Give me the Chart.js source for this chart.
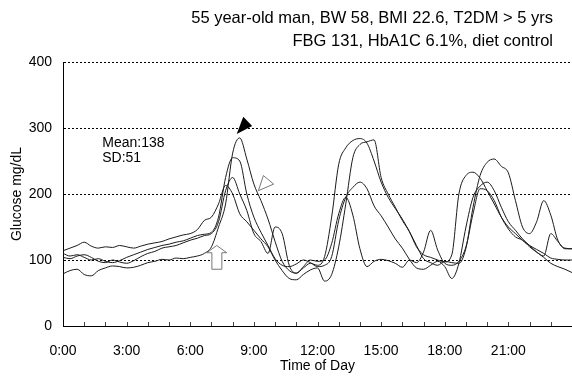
<!DOCTYPE html>
<html>
<head>
<meta charset="utf-8">
<script src="https://cdn.jsdelivr.net/npm/chart.js@4.4.1/dist/chart.umd.min.js"></script>
<style>
html, body { margin: 0; padding: 0; background: #fff; }
canvas { display: block; }
</style>
</head>
<body>
<canvas id="cgm" width="572" height="377"></canvas>
<script>
// sampling grid: every 20 minutes, 0:00 .. 24:00
const hours = Array.from({ length: 73 }, (_, i) => i / 3);

const day1 = [
  79, 84, 86,   78, 76, 84,   88, 91, 90,   88, 89, 92,   96, 98, 101,  100, 103, 102,
  104, 106, 110, 120, 150, 185, 262, 285, 253, 215, 190, 162, 128, 98, 84,  80, 88, 95,
  92, 105, 165, 245, 270, 281, 284, 277, 250, 218, 195, 178, 162, 143, 122, 102, 96, 92,
  98, 96, 95,   118, 180, 228, 248, 253, 242, 232, 190, 150, 140, 158, 190, 168, 130, 118,
  117
];
const day2 = [
  114, 118, 122, 127, 121, 118, 120, 119, 122, 120, 118, 121, 124, 126, 128, 132, 135, 138,
  140, 146, 160, 165, 185, 213, 200, 170, 158, 145, 132, 120, 100, 84, 72,  70, 78, 85,
  88, 68, 78,   120, 185, 255, 275, 279, 282, 225, 200, 180, 160, 143, 120, 108, 104, 100,
  97, 108, 200, 228, 233, 224, 205, 185, 165, 150, 140, 130, 122, 116, 110, 103, 101, 100,
  100
];
const day3 = [
  110, 106, 108, 104, 100, 102, 98, 96, 99,   104, 108, 112, 116, 119, 122, 124, 127, 129,
  133, 137, 139, 142, 165, 225, 255, 250, 200, 165, 142, 122, 102, 92, 90,  94, 100, 96,
  90, 92, 105,  160, 195, 210, 218, 208, 182, 167, 150, 132, 118, 101, 88,  86, 92, 98,
  90, 72, 95,   150, 195, 212, 218, 205, 180, 158, 145, 132, 122, 112, 104, 95, 90, 86,
  81
];
const day4 = [
  104, 102, 106, 108, 104, 98,  96, 100, 97,  95, 99, 105,  110, 113, 118, 120, 122, 126,
  130, 133, 137, 140, 158, 205, 225, 200, 175, 140, 128, 110, 150, 140, 92,  80, 90, 100,
  98, 100, 125, 170, 195, 168, 117, 90, 98,   101, 99, 95,   89, 100, 96,   112, 145, 115,
  95, 92, 98,   120, 170, 208, 205, 190, 165, 147, 135, 130, 120, 112, 106, 140, 128, 117,
  117
];
const days = [day1, day2, day3, day4];

const xTickLabels = ['0:00', '3:00', '6:00', '9:00', '12:00', '15:00', '18:00', '21:00'];
const titleLines = ['55 year-old man, BW 58, BMI 22.6, T2DM > 5 yrs', 'FBG 131, HbA1C 6.1%, diet control'];
const statLines = ['Mean:138', 'SD:51'];

const FONT = 'Arial, "Liberation Sans", sans-serif';

// title, hour ticks, summary text and the meal markers
const overlay = {
  id: 'overlay',
  afterDraw(chart) {
    const { ctx, scales: { x, y } } = chart;
    const P = (t, v) => [x.getPixelForValue(t), y.getPixelForValue(v)];
    ctx.save();

    ctx.fillStyle = '#000';
    ctx.font = '16.5px ' + FONT;
    ctx.textAlign = 'right';
    ctx.textBaseline = 'middle';
    ctx.fillText(titleLines[0], 553, 18);
    ctx.fillText(titleLines[1], 553, 41);

    ctx.strokeStyle = '#444';
    ctx.lineWidth = 1;
    for (let h = 1; h < 24; h++) {
      const px = Math.round(x.getPixelForValue(h)) + 0.5;
      ctx.beginPath();
      ctx.moveTo(px, y.bottom);
      ctx.lineTo(px, y.bottom - 4);
      ctx.stroke();
    }

    ctx.font = '14px ' + FONT;
    ctx.textAlign = 'left';
    let p = P(1.85, 277);
    ctx.fillText(statLines[0], p[0], p[1]);
    p = P(1.85, 254);
    ctx.fillText(statLines[1], p[0], p[1]);

    const poly = (pts, fill, stroke) => {
      ctx.beginPath();
      pts.forEach(([t, v], i) => {
        const [a, b] = P(t, v);
        i ? ctx.lineTo(a, b) : ctx.moveTo(a, b);
      });
      ctx.closePath();
      ctx.fillStyle = fill;
      ctx.fill();
      if (stroke) { ctx.strokeStyle = stroke; ctx.stroke(); }
    };
    // filled triangle over the highest breakfast peak
    poly([[8.19, 291], [8.5, 317], [8.92, 303]], '#000');
    // open triangle on the descent
    poly([[9.21, 205], [9.45, 228], [9.93, 215]], '#fff', '#777');
    // open up-arrow at breakfast time
    poly([[7.25, 122], [6.78, 111], [7.02, 111], [7.02, 86], [7.49, 86], [7.49, 111], [7.72, 111]], '#fff', '#777');

    ctx.restore();
  }
};

new Chart(document.getElementById('cgm'), {
  type: 'line',
  data: {
    datasets: days.map((d, k) => ({
      label: 'Day ' + (k + 1),
      data: d.map((v, i) => ({ x: hours[i], y: v })),
      borderColor: '#1b1b1b',
      borderWidth: 1,
      pointRadius: 0,
      cubicInterpolationMode: 'monotone',
      fill: false
    }))
  },
  options: {
    responsive: false,
    animation: false,
    devicePixelRatio: 1,
    layout: { padding: { top: 62, right: 0, left: 0, bottom: 0 } },
    plugins: { legend: { display: false }, tooltip: { enabled: false } },
    scales: {
      x: {
        type: 'linear',
        min: 0,
        max: 24,
        afterFit: s => { s.height = 51; s.paddingRight = 0; },
        grid: { display: false },
        border: { display: true, color: '#000', width: 1 },
        ticks: {
          stepSize: 3,
          autoSkip: false,
          maxRotation: 0,
          padding: 9,
          color: '#000',
          font: { family: FONT, size: 14 },
          callback: v => (v < 24 ? xTickLabels[v / 3] : '')
        },
        title: {
          display: true,
          text: 'Time of Day',
          color: '#000',
          font: { family: FONT, size: 14 },
          padding: { top: 0, bottom: 2 }
        }
      },
      y: {
        min: 0,
        max: 400,
        afterFit: s => { s.width = 63; },
        grid: {
          drawTicks: false,
          color: c => (c.tick && c.tick.value === 0 ? 'rgba(0,0,0,0)' : '#000'),
          lineWidth: 1
        },
        border: { display: true, color: '#000', width: 1, dash: [2, 2] },
        ticks: {
          stepSize: 100,
          padding: 11,
          color: '#000',
          font: { family: FONT, size: 14 }
        },
        title: {
          display: true,
          text: 'Glucose mg/dL',
          color: '#000',
          font: { family: FONT, size: 14 },
          padding: { top: 9, bottom: 0 }
        }
      }
    }
  },
  plugins: [overlay]
});
</script>
</body>
</html>
